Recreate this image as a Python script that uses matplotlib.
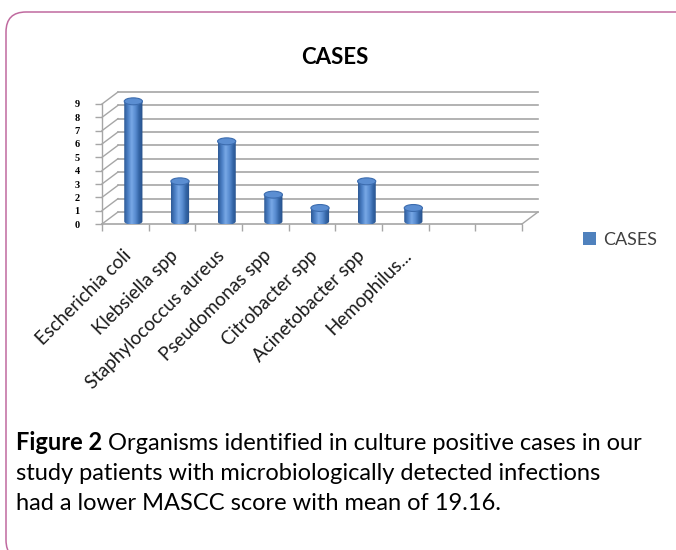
import numpy as np
import matplotlib
matplotlib.use("Agg")
import matplotlib.pyplot as plt
from matplotlib.patches import Ellipse, PathPatch, Patch, FancyBboxPatch
from matplotlib.path import Path
from matplotlib.colors import LinearSegmentedColormap
from matplotlib.transforms import offset_copy

# data
organisms = ["Escherichia coli", "Klebsiella spp", "Staphylococcus aureus",
             "Pseudomonas spp", "Citrobacter spp", "Acinetobacter spp",
             "Hemophilus..."]
cases = [9, 3, 6, 2, 1, 3, 1]
n_slots = 9          # excel left two empty category slots
y_ticks = list(range(10))
caption_bold = "Figure 2"
caption_lines = [" Organisms identified in culture positive cases in our",
                 "study patients with microbiologically detected infections",
                 "had a lower MASCC score with mean of 19.16."]

W, H = 676, 550
fig = plt.figure(figsize=(W / 100, H / 100), dpi=100)
fig.patch.set_facecolor("white")

sans = ["Lato", "DejaVu Sans"]
grey = "#a6a6a6"

# pseudo-3d geometry (data units)
DX, DY = 0.343, 0.9      # depth of the back wall
BW, EH = 0.39, 0.52      # cylinder width and ellipse height
base = 0.2

px_cat = 420 / n_slots
px_val = 120 / 9
xmax, ymax = 8.9, 10.2
ax = fig.add_axes([102 / W, (H - 224) / H, (xmax + 0.5) * px_cat / W, ymax * px_val / H])
ax.set_xlim(-0.5, xmax)
ax.set_ylim(0, ymax)
for s in ax.spines.values():
    s.set_visible(False)

left, right = -0.5, n_slots - 0.5
# back wall gridlines + left wall diagonals
for v in y_ticks:
    ax.plot([left + DX, right + DX], [v + DY, v + DY], color=grey, lw=1.2, clip_on=False, zorder=1)
    ax.plot([left, left + DX], [v, v + DY], color=grey, lw=1.0, clip_on=False, zorder=1)
ax.plot([left, left], [0, 9], color=grey, lw=1.0, clip_on=False, zorder=1)
# floor front edge
ax.plot([left, right], [0, 0], color=grey, lw=1.2, clip_on=False, zorder=1)
ax.plot([right, right + DX], [0, DY], color=grey, lw=1.0, clip_on=False, zorder=1)

# ticks
ax.set_yticks(y_ticks)
ax.set_yticklabels([str(t) for t in y_ticks], family="Liberation Serif",
                   fontweight="bold", fontsize=7.5)
ax.set_xticks(np.arange(left, right + 0.01, 1.0))
ax.set_xticklabels([])
ax.tick_params(axis="y", length=5, color=grey, width=1.0, pad=11)
ax.tick_params(axis="x", length=5, color=grey, width=1.0)

# cylinders
cmap = LinearSegmentedColormap.from_list(
    "cyl", ["#2e5a96", "#4a7ec4", "#78a8e6", "#5a8ed2", "#3465a6", "#27508a"])
grad = np.linspace(0, 1, 64)[None, :]
theta = np.linspace(np.pi, 2 * np.pi, 40)
for i, v in enumerate(cases):
    cx = i + DX / 2
    top = v + base
    xs = np.concatenate([[cx - BW / 2], cx + BW / 2 * np.cos(theta), [cx + BW / 2]])
    ys = np.concatenate([[top], base + EH / 2 * np.sin(theta), [top]])
    verts = list(zip(xs, ys)) + [(cx - BW / 2, top)]
    codes = [Path.MOVETO] + [Path.LINETO] * (len(verts) - 2) + [Path.CLOSEPOLY]
    body = PathPatch(Path(verts, codes), facecolor="none", edgecolor="none",
                     transform=ax.transData)
    ax.add_patch(body)
    im = ax.imshow(grad, cmap=cmap, extent=(cx - BW / 2, cx + BW / 2, base - EH / 2, top),
                   aspect="auto", zorder=3, interpolation="bilinear")
    im.set_clip_path(body)
    im.set_clip_box(None)
    ax.add_patch(Ellipse((cx, top), BW, EH, facecolor="#5b8ed2", edgecolor="#3c6cae",
                         lw=0.8, zorder=4, clip_on=False))
ax.set_xlim(-0.5, xmax)
ax.set_ylim(0, ymax)

# category labels
lab_tr = offset_copy(ax.transData, fig=fig, x=3, y=-29, units="dots")
for i, name in enumerate(organisms):
    ax.text(i, 0, name, transform=lab_tr, rotation=45, rotation_mode="anchor",
            ha="right", va="center", fontsize=13.5, family=sans, color="#1a1a1a")

# legend
ax.legend(handles=[Patch(facecolor="#4f81bd", label="CASES")], loc="center left",
          bbox_to_anchor=(567 / W, 1 - 240 / H), bbox_transform=fig.transFigure,
          frameon=False, handlelength=0.7, handleheight=0.7, handletextpad=0.4,
          prop={"family": sans, "size": 13})
for t in ax.get_legend().get_texts():
    t.set_color("#404040")

# title
fig.text(335 / W, 1 - 57 / H, "CASES", ha="center", va="center", fontsize=16,
         fontweight="bold", family=sans)

# caption
cap_size = 17
t1 = fig.text(16 / W, 1 - 443 / H, caption_bold, fontsize=cap_size, fontweight="bold",
              family=sans, va="center")
ax.annotate(caption_lines[0], xy=(1, 0), xycoords=t1, va="bottom", ha="left",
            fontsize=cap_size, family=sans, annotation_clip=False)
fig.text(16 / W, 1 - 473 / H, caption_lines[1], fontsize=cap_size, family=sans, va="center")
fig.text(16 / W, 1 - 503 / H, caption_lines[2], fontsize=cap_size, family=sans, va="center")

# rounded frame
frame = FancyBboxPatch((0.06, -0.1), 6.9, 5.48,
                       boxstyle="round,pad=0,rounding_size=0.2",
                       transform=fig.dpi_scale_trans, facecolor="none",
                       edgecolor="#c06a9f", lw=1.1)
fig.add_artist(frame)

fig.savefig("out.png", dpi=100)
